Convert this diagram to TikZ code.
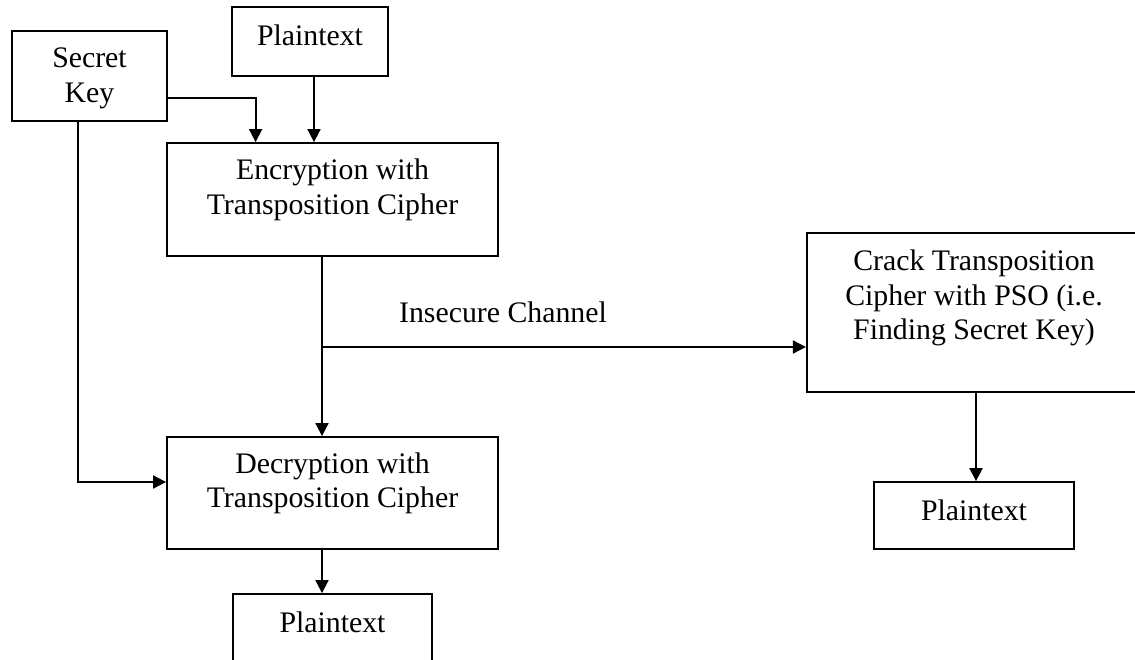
\documentclass[tikz,border=0pt]{standalone}
\usepackage{fontspec}
\setmainfont{Liberation Serif}
\usetikzlibrary{arrows.meta}
% stacked, centred lines whose reference point is the first baseline
\newcommand{\boxlines}[1]{\begin{tabular}[t]{@{}c@{}}#1\end{tabular}}
\begin{document}
\begin{tikzpicture}[x=1pt,y=-1pt,
  box/.style={draw, line width=1.8pt, inner sep=0pt, rectangle},
  txt/.style={inner sep=0pt, anchor=base, font=\fontsize{29.8}{34.5}\selectfont},
  arr/.style={line width=1.8pt, -{Triangle[length=13pt,width=13pt]}},
  link/.style={line width=1.8pt}]
\useasboundingbox (0,0) rectangle (1135,660);
\clip (0,0) rectangle (1135,660);

% boxes
\node[box, minimum width=155pt, minimum height=90pt]  (sk)    at (89.5,76)    {};
\node[box, minimum width=156pt, minimum height=69pt]  (ptin)  at (310,41.5)   {};
\node[box, minimum width=331pt, minimum height=113pt] (enc)   at (332.5,199.5){};
\node[box, minimum width=331pt, minimum height=112pt] (dec)   at (332.5,493)  {};
\node[box, minimum width=199pt, minimum height=67pt]  (ptout) at (332.5,627.5){};
\node[box, minimum width=334pt, minimum height=159pt, line width=2.2pt] (crack) at (974,312.5) {};
\node[box, minimum width=200pt, minimum height=67pt]  (ptcr)  at (974,515.5)  {};

% box texts
\node[txt] (sk-t)    at (89.5,68)  {\boxlines{Secret\\Key}};
\node[txt] (ptin-t)  at (310,46)   {Plaintext};
\node[txt] (enc-t)   at (332.5,180){\boxlines{Encryption with\\Transposition Cipher}};
\node[txt] (dec-t)   at (332.5,473){\boxlines{Decryption with\\Transposition Cipher}};
\node[txt] (ptout-t) at (332.5,632){Plaintext};
\node[txt] (crack-t) at (974,271)  {\boxlines{Crack Transposition\\Cipher with PSO (i.e.\\Finding Secret Key)}};
\node[txt] (ptcr-t)  at (974,520)  {Plaintext};
\node[txt] (chan)    at (503,323)  {Insecure Channel};

% connectors
\draw[arr] ([yshift=-22pt]sk.east) -| ([xshift=89.5pt]enc.north west);
\draw[arr] ([xshift=4pt]ptin.south) -- ([xshift=4pt]ptin.south |- enc.north);
\draw[arr] ([xshift=-10.5pt]enc.south) -- ([xshift=-10.5pt]dec.north);
\coordinate (split) at (322,347);
\draw[arr] (split) -- (split -| crack.west);
\draw[arr] ([xshift=-11.5pt]sk.south) |- ([yshift=11pt]dec.west);
\draw[arr] ([xshift=-10.5pt]dec.south) -- ([xshift=-10.5pt]ptout.north);
\draw[arr, line width=2.2pt] ([xshift=2pt]crack.south) -- ([xshift=2pt]ptcr.north);
\end{tikzpicture}
\end{document}
